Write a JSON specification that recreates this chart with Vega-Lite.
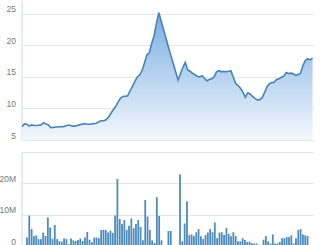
{
  "$schema": "https://vega.github.io/schema/vega-lite/v6.json",
  "padding": {"left": -1.5, "top": 0, "right": 13, "bottom": 0},
  "background": "white",
  "spacing": 12,
  "config": {
    "view": {"stroke": null},
    "axis": {
      "domainColor": "#ccd6eb",
      "gridColor": "#e6e6e6",
      "ticks": false,
      "labelColor": "#777777",
      "labelFontSize": 8.5,
      "labelFont": "Liberation Sans",
      "labelBaseline": "alphabetic",
      "labelOffset": -2,
      "labelPadding": 6,
      "title": null
    }
  },
  "datasets": {
    "price": [
      {"i":0,"close":7.1},{"i":1,"close":7.55},{"i":2,"close":7.5},{"i":3,"close":7.2},{"i":4,"close":7.4},
      {"i":5,"close":7.3},{"i":6,"close":7.3},{"i":7,"close":7.35},{"i":8,"close":7.4},{"i":9,"close":7.75},
      {"i":10,"close":7.55},{"i":11,"close":7.4},{"i":12,"close":6.95},{"i":13,"close":7.0},{"i":14,"close":7.05},
      {"i":15,"close":7.05},{"i":16,"close":7.1},{"i":17,"close":7.1},{"i":18,"close":7.2},{"i":19,"close":7.35},
      {"i":20,"close":7.35},{"i":21,"close":7.2},{"i":22,"close":7.2},{"i":23,"close":7.3},{"i":24,"close":7.4},
      {"i":25,"close":7.5},{"i":26,"close":7.6},{"i":27,"close":7.5},{"i":28,"close":7.5},{"i":29,"close":7.55},
      {"i":30,"close":7.6},{"i":31,"close":7.65},{"i":32,"close":7.9},{"i":33,"close":8.05},{"i":34,"close":8.05},
      {"i":35,"close":8.2},{"i":36,"close":8.6},{"i":37,"close":9.2},{"i":38,"close":9.8},{"i":39,"close":10.3},
      {"i":40,"close":11.0},{"i":41,"close":11.6},{"i":42,"close":11.9},{"i":43,"close":11.95},{"i":44,"close":12.0},
      {"i":45,"close":12.8},{"i":46,"close":13.5},{"i":47,"close":14.3},{"i":48,"close":15.0},{"i":49,"close":15.3},
      {"i":50,"close":16.0},{"i":51,"close":17.2},{"i":52,"close":18.5},{"i":53,"close":18.8},{"i":54,"close":20.3},
      {"i":55,"close":21.5},{"i":56,"close":23.5},{"i":57,"close":25.2},{"i":58,"close":23.8},{"i":60,"close":21.1},
      {"i":61,"close":19.7},{"i":62,"close":18.4},{"i":65,"close":14.5},{"i":66,"close":15.5},{"i":67,"close":16.5},
      {"i":68,"close":17.3},{"i":69,"close":16.1},{"i":70,"close":15.9},{"i":71,"close":15.6},{"i":72,"close":15.35},
      {"i":73,"close":15.1},{"i":74,"close":15.0},{"i":75,"close":15.2},{"i":76,"close":14.8},{"i":77,"close":14.4},
      {"i":78,"close":14.6},{"i":79,"close":14.7},{"i":80,"close":15.0},{"i":81,"close":15.8},{"i":82,"close":16.0},
      {"i":83,"close":15.85},{"i":84,"close":15.85},{"i":85,"close":15.85},{"i":86,"close":15.9},{"i":87,"close":16.0},
      {"i":88,"close":15.0},{"i":89,"close":14.0},{"i":90,"close":13.6},{"i":91,"close":13.2},{"i":92,"close":12.6},
      {"i":93,"close":11.8},{"i":94,"close":12.5},{"i":95,"close":12.3},{"i":96,"close":11.9},{"i":97,"close":11.6},
      {"i":98,"close":11.35},{"i":99,"close":11.4},{"i":100,"close":11.7},{"i":101,"close":12.5},{"i":102,"close":13.4},
      {"i":103,"close":13.9},{"i":104,"close":14.1},{"i":105,"close":14.15},{"i":106,"close":14.6},{"i":107,"close":14.7},
      {"i":108,"close":14.95},{"i":109,"close":15.1},{"i":110,"close":15.7},{"i":111,"close":15.55},{"i":112,"close":15.6},
      {"i":113,"close":15.5},{"i":114,"close":15.25},{"i":115,"close":15.4},{"i":116,"close":15.6},{"i":117,"close":16.8},
      {"i":118,"close":17.6},{"i":119,"close":17.9},{"i":120,"close":17.7},{"i":121,"close":18.0}
    ],
    "vol": [
      {"i":0,"v":2.7},{"i":1,"v":9.7},{"i":2,"v":5.4},{"i":3,"v":3.1},{"i":4,"v":3.4},{"i":5,"v":2.2},{"i":6,"v":2.2},
      {"i":7,"v":4.3},{"i":8,"v":3.2},{"i":9,"v":9.1},{"i":10,"v":5.9},{"i":11,"v":2.3},{"i":12,"v":6.7},{"i":13,"v":2.2},
      {"i":14,"v":1.6},{"i":15,"v":1.4},{"i":16,"v":2.4},{"i":17,"v":2.2},{"i":18,"v":0.6},{"i":19,"v":2.4},{"i":20,"v":1.8},
      {"i":21,"v":1.6},{"i":22,"v":1.9},{"i":23,"v":2.4},{"i":24,"v":1.6},{"i":25,"v":2.7},{"i":26,"v":4.5},{"i":27,"v":2.0},
      {"i":28,"v":1.2},{"i":29,"v":2.7},{"i":30,"v":2.7},{"i":31,"v":2.5},{"i":32,"v":5.1},{"i":33,"v":5.2},{"i":34,"v":5.1},
      {"i":35,"v":4.3},{"i":36,"v":4.9},{"i":37,"v":4.2},{"i":38,"v":9.7},{"i":39,"v":21.4},{"i":40,"v":8.6},{"i":41,"v":7.0},
      {"i":42,"v":8.3},{"i":43,"v":5.1},{"i":44,"v":6.5},{"i":45,"v":8.8},{"i":46,"v":5.7},{"i":47,"v":7.0},{"i":48,"v":8.3},
      {"i":49,"v":6.1},{"i":50,"v":1.8},{"i":51,"v":14.7},{"i":52,"v":9.4},{"i":53,"v":5.1},{"i":54,"v":1.8},{"i":55,"v":1.0},
      {"i":56,"v":15.6},{"i":57,"v":9.6},{"i":58,"v":1.8},{"i":60,"v":0.3},{"i":61,"v":4.8},{"i":62,"v":4.8},{"i":66,"v":22.8},
      {"i":67,"v":1.5},{"i":68,"v":7.2},{"i":69,"v":14.3},{"i":70,"v":3.5},{"i":71,"v":3.7},{"i":72,"v":3.2},{"i":73,"v":4.4},
      {"i":74,"v":5.4},{"i":75,"v":3.1},{"i":76,"v":2.2},{"i":77,"v":3.5},{"i":78,"v":4.3},{"i":79,"v":5.4},{"i":80,"v":4.4},
      {"i":81,"v":7.5},{"i":82,"v":2.5},{"i":83,"v":4.3},{"i":84,"v":4.4},{"i":85,"v":3.5},{"i":86,"v":5.7},{"i":87,"v":3.9},
      {"i":88,"v":3.1},{"i":89,"v":4.4},{"i":90,"v":3.2},{"i":91,"v":1.5},{"i":92,"v":1.5},{"i":93,"v":2.5},{"i":94,"v":1.9},
      {"i":95,"v":1.3},{"i":96,"v":1.4},{"i":97,"v":0.9},{"i":98,"v":0.8},{"i":99,"v":0.8},{"i":100,"v":0.4},{"i":102,"v":2.0},
      {"i":103,"v":3.2},{"i":104,"v":1.5},{"i":105,"v":0.8},{"i":106,"v":3.7},{"i":107,"v":0.8},{"i":108,"v":0.8},{"i":109,"v":1.3},
      {"i":110,"v":2.5},{"i":111,"v":2.5},{"i":112,"v":2.9},{"i":113,"v":2.9},{"i":114,"v":3.4},{"i":115,"v":0.8},{"i":116,"v":2.5},
      {"i":117,"v":5.1},{"i":118,"v":5.4},{"i":119,"v":3.7},{"i":120,"v":3.4},{"i":121,"v":3.2}
    ]
  },
  "vconcat": [
    {
      "width": 292,
      "height": 140,
      "data": {"name": "price"},
      "encoding": {
        "x": {"field": "i", "type": "quantitative", "scale": {"domain": [-0.2, 121.4], "nice": false}, "axis": null},
        "y": {
          "field": "close", "type": "quantitative",
          "scale": {"domain": [5, 27.2], "nice": false, "zero": false},
          "axis": {"values": [5, 10, 15, 20, 25], "grid": true, "labelOverlap": false}
        }
      },
      "layer": [
        {
          "mark": {
            "type": "area",
            "clip": true,
            "color": {
              "gradient": "linear",
              "x1": 0, "y1": 0, "x2": 0, "y2": 1,
              "stops": [
                {"offset": 0, "color": "#7aaee2"},
                {"offset": 1, "color": "#f4f8fd"}
              ]
            }
          },
          "encoding": {
            "y2": {"datum": 5}
          }
        },
        {
          "mark": {"type": "line", "color": "#4783b6", "strokeWidth": 1.6, "clip": true},
          "encoding": {}
        }
      ]
    },
    {
      "width": 292,
      "height": 94,
      "data": {"name": "vol"},
      "mark": {"type": "bar", "size": 1.8, "color": "#4d8cbb"},
      "encoding": {
        "x": {"field": "i", "type": "quantitative", "scale": {"domain": [-0.2, 121.4], "nice": false}, "axis": null},
        "y": {
          "field": "v", "type": "quantitative",
          "scale": {"domain": [0, 30], "nice": false},
          "axis": {
            "values": [0, 10, 20, 30],
            "grid": true,
            "labelExpr": "datum.value == 0 ? '0' : (datum.value >= 30 ? '' : datum.label + 'M')"
          }
        }
      }
    }
  ]
}
